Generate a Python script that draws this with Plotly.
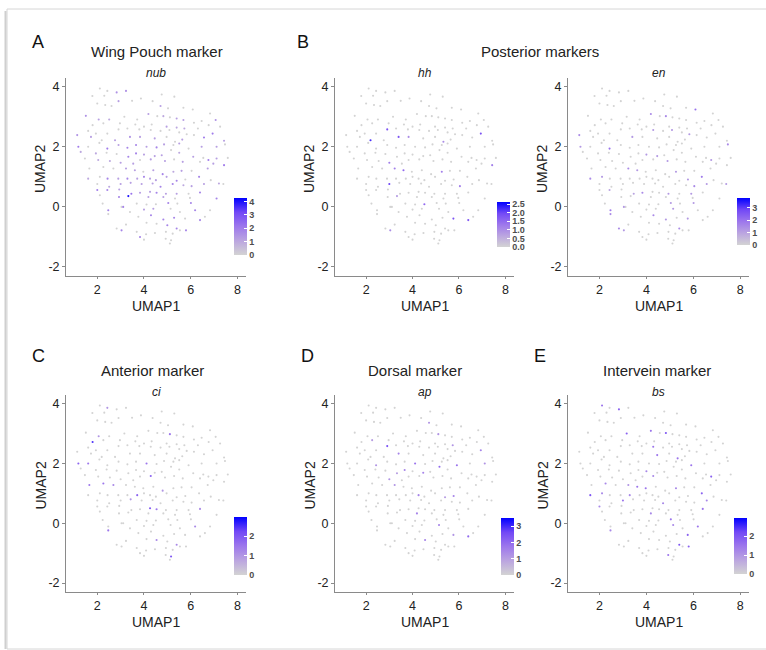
import plotly.graph_objects as go

# UMAP coordinates of the cells (shared by all panels)
umap1 = [2.11, 2.43, 2.83, 3.23, 1.79, 2.30, 2.91, 3.49, 3.87, 4.37, 4.76, 5.30, 2.00, 2.34, 2.61, 4.71, 5.03, 5.69, 6.09, 6.83,
         1.51, 2.06, 2.51, 3.16, 3.71, 4.19, 4.57, 4.83, 5.11, 5.40, 5.69, 6.14, 6.47, 7.07, 1.80, 2.26, 2.97, 3.63, 4.00, 4.33,
         4.97, 5.40, 5.73, 6.31, 6.77, 7.26, 1.61, 1.94, 2.43, 2.91, 3.29, 3.80, 4.29, 4.71, 5.09, 5.51, 5.83, 6.14, 6.94, 1.14,
         1.73, 2.19, 2.76, 3.40, 3.83, 4.46, 4.97, 5.33, 5.64, 6.57, 7.43, 1.19, 1.61, 2.09, 2.43, 2.91, 3.29, 3.66, 4.11, 4.54,
         4.86, 5.26, 5.51, 5.91, 6.47, 7.11, 7.47, 1.29, 1.94, 2.40, 2.83, 3.33, 3.66, 4.00, 4.46, 4.76, 5.16, 5.51, 6.11, 6.54,
         6.76, 7.11, 7.59, 1.47, 2.04, 2.54, 3.00, 3.54, 3.83, 4.29, 4.90, 5.29, 5.66, 6.40, 6.97, 7.43, 1.66, 2.26, 2.69, 3.23,
         3.61, 3.97, 4.40, 4.80, 5.26, 5.61, 6.04, 6.73, 1.61, 2.11, 2.44, 2.90, 3.29, 3.71, 4.00, 4.26, 4.51, 4.97, 5.40, 5.77,
         6.36, 6.86, 2.00, 2.51, 3.00, 3.43, 3.90, 4.37, 4.71, 5.23, 5.69, 6.04, 6.57, 7.21, 7.40, 2.00, 2.43, 2.94, 3.46, 3.83,
         4.26, 4.54, 4.94, 5.40, 5.91, 6.40, 2.11, 2.93, 3.33, 4.19, 4.83, 5.33, 5.97, 7.11, 2.23, 3.11, 3.69, 4.11, 4.51, 5.04,
         5.43, 6.01, 2.47, 3.04, 3.40, 4.00, 4.40, 5.14, 5.54, 6.19, 6.83, 2.47, 3.76, 4.30, 4.83, 5.29, 5.76, 6.40, 6.61, 3.23,
         4.11, 4.54, 5.00, 5.40, 5.80, 2.83, 3.04, 3.69, 4.09, 4.47, 4.94, 5.23, 5.54, 3.83, 4.00, 4.93, 5.16, 5.11]
umap2 = [3.94, 3.86, 3.81, 3.86, 3.69, 3.70, 3.52, 3.53, 3.61, 3.52, 3.74, 3.67, 3.44, 3.39, 3.36, 3.36, 3.28, 3.30, 3.24, 3.11,
         3.03, 2.91, 2.91, 3.00, 2.91, 3.09, 3.02, 3.02, 2.98, 2.94, 2.89, 2.80, 2.86, 2.89, 2.72, 2.78, 2.78, 2.74, 2.67, 2.74,
         2.67, 2.64, 2.61, 2.61, 2.72, 2.67, 2.53, 2.44, 2.44, 2.58, 2.61, 2.58, 2.56, 2.53, 2.56, 2.48, 2.42, 2.39, 2.44, 2.39,
         2.33, 2.22, 2.22, 2.33, 2.33, 2.28, 2.33, 2.17, 2.24, 2.31, 2.20, 2.00, 2.00, 2.13, 1.94, 2.06, 1.97, 2.06, 2.00, 1.98,
         2.08, 2.06, 2.11, 1.94, 2.00, 2.00, 2.08, 1.83, 1.78, 1.80, 1.76, 1.67, 1.78, 1.74, 1.69, 1.72, 1.89, 1.80, 1.67, 1.63,
         1.56, 1.61, 1.63, 1.61, 1.56, 1.53, 1.47, 1.44, 1.56, 1.58, 1.53, 1.58, 1.50, 1.50, 1.44, 1.39, 1.28, 1.33, 1.28, 1.28,
         1.22, 1.17, 1.22, 1.09, 1.17, 1.20, 1.20, 1.28, 0.94, 1.00, 0.94, 0.94, 0.94, 0.94, 1.00, 0.94, 0.89, 1.00, 0.87, 0.91,
         1.00, 0.89, 0.76, 0.67, 0.76, 0.80, 0.76, 0.78, 0.67, 0.76, 0.72, 0.69, 0.76, 0.78, 0.76, 0.56, 0.56, 0.58, 0.44, 0.47,
         0.50, 0.47, 0.44, 0.44, 0.44, 0.48, 0.39, 0.33, 0.36, 0.33, 0.33, 0.28, 0.30, 0.28, 0.11, 0.00, 0.11, 0.08, 0.09, 0.13,
         0.11, 0.13, -0.11, 0.00, -0.17, -0.09, -0.06, -0.06, -0.17, -0.11, -0.11, -0.24, -0.33, -0.28, -0.42, -0.36, -0.39, -0.44, -0.33, -0.59,
         -0.53, -0.56, -0.61, -0.72, -0.78, -0.72, -0.78, -0.83, -0.91, -0.87, -0.83, -0.89, -0.78, -1.00, -1.09, -1.06, -1.11, -1.22]

# Expression per gene: cell ids (1-based) with non-zero expression and their values
nub_cells = [3, 4, 7, 16, 21, 22, 23, 26, 28, 30, 31, 34, 41, 42, 43, 59, 60, 61, 63, 64, 65, 66, 69, 70, 71, 72, 75, 76, 77, 78,
             79, 80, 81, 83, 85, 86, 88, 89, 92, 93, 94, 95, 96, 98, 99, 101, 102, 105, 106, 107, 108, 110, 111, 113, 115, 116,
             120, 121, 123, 124, 125, 126, 128, 129, 131, 132, 133, 134, 135, 136, 137, 138, 139, 141, 144, 145, 146, 147, 148,
             149, 150, 151, 152, 153, 154, 156, 157, 158, 159, 160, 161, 162, 163, 164, 166, 168, 169, 170, 171, 174, 176, 180,
             182, 183, 186, 187, 190, 194, 195, 196, 198, 203, 204, 205, 207, 214]
nub_vals = [1.5, 1.5, 1.2, 1.2, 1.5, 1.2, 1.0, 1.2, 1.0, 1.2, 1.2, 1.5, 1.2, 1.0, 1.0, 2.0, 1.5, 1.2, 1.2, 1.5, 1.2, 1.2, 1.2, 2.0, 1.2, 2.0, 2.0, 1.2, 1.8, 1.8,
            1.2, 1.8, 1.2, 1.2, 1.2, 1.2, 1.0, 1.0, 1.8, 1.8, 1.2, 1.2, 1.2, 1.0, 1.2, 2.0, 1.2, 1.0, 1.0, 1.2, 1.2, 1.2, 1.2, 1.2, 1.2, 2.0,
            1.2, 1.2, 1.2, 1.8, 1.0, 1.2, 1.2, 1.0, 1.8, 1.2, 1.8, 1.2, 1.8, 1.2, 1.2, 1.2, 1.8, 1.8, 1.0, 1.2, 1.2, 1.2, 1.2,
            1.8, 1.8, 1.0, 1.2, 1.2, 1.0, 2.0, 1.8, 1.2, 2.2, 1.2, 1.2, 1.8, 1.2, 1.2, 1.8, 1.8, 4.0, 1.2, 1.2, 1.8, 1.8, 1.8,
            1.8, 1.8, 1.2, 1.2, 1.8, 1.8, 1.8, 1.8, 1.8, 1.8, 1.8, 1.8, 1.8, 1.8]

hh_cells = [62, 50, 64, 65, 107, 120, 121, 145, 125, 152, 59, 116, 179, 197, 198, 68, 169, 207]
hh_vals = [2.2, 1.8, 1.8, 1.0, 1.2, 1.2, 1.5, 2.0, 1.2, 1.2, 1.8, 1.2, 1.5, 1.8, 1.8, 1.0, 0.8, 1.0]

en_cells = [19, 26, 28, 60, 72, 75, 64, 53, 57, 87, 101, 141, 152, 153, 165, 120, 121, 160, 183, 192, 184, 194, 188, 204,
            206, 207, 195, 163, 125, 140, 111, 95, 130, 129, 157, 159, 94, 55, 155, 180, 182, 197]
en_vals = [2.0, 1.5, 1.5, 1.5, 1.2, 2.0, 1.2, 1.2, 1.2, 1.5, 1.2, 1.8, 1.5, 1.2, 1.2, 1.5, 1.2, 1.5, 1.8, 1.5, 1.2, 1.5, 1.2, 1.5,
           1.5, 1.2, 1.2, 1.2, 1.2, 1.2, 1.2, 1.2, 1.2, 1.5, 1.0, 1.0, 1.2, 1.2, 1.2, 1.2, 1.2, 1.2]

ci_cells = [35, 72, 73, 117, 118, 119, 110, 79, 134, 146, 161, 162, 166, 190, 192, 202, 204, 217, 29, 124, 2, 22]
ci_vals = [2.5, 1.8, 1.5, 1.5, 1.5, 1.2, 1.8, 1.5, 1.8, 1.0, 2.0, 1.5, 1.2, 1.2, 1.5, 1.2, 1.2, 2.0, 1.5, 1.0, 1.0, 1.0]

ap_cells = [50, 64, 75, 93, 79, 95, 97, 84, 43, 29, 16, 59, 86, 107, 120, 136, 170, 140, 188, 197, 198, 202, 36, 92, 139]
ap_vals = [2.5, 1.5, 1.2, 1.5, 1.8, 1.5, 2.0, 1.8, 1.2, 1.2, 1.2, 1.5, 1.2, 1.2, 1.2, 1.5, 1.5, 1.5, 1.5, 1.2, 2.0, 1.5, 1.0, 1.0, 1.0]

bs_cells = [1, 3, 24, 26, 28, 53, 66, 68, 84, 101, 141, 153, 166, 129, 130, 156, 118, 145, 133, 121, 122, 94, 110, 149,
            180, 188, 125, 197, 190, 204, 205, 216, 192, 170, 120]
bs_vals = [1.5, 1.8, 1.8, 1.5, 2.0, 1.5, 1.5, 1.5, 1.5, 1.8, 1.8, 1.2, 1.5, 2.0, 1.2, 1.2, 1.2, 1.5, 1.2, 1.5, 1.5, 1.2, 1.2, 1.2,
           1.5, 1.2, 1.2, 1.8, 1.5, 2.0, 1.8, 1.5, 1.2, 1.2, 1.0]

genes = ["nub", "hh", "en", "ci", "ap", "bs"]
gene_cells = [nub_cells, hh_cells, en_cells, ci_cells, ap_cells, bs_cells]
gene_vals = [nub_vals, hh_vals, en_vals, ci_vals, ap_vals, bs_vals]
scale_max = [4.25, 2.62, 3.8, 3.0, 3.5, 2.95]
cbar_ticks = [[0, 1, 2, 3, 4], [0, 0.5, 1.0, 1.5, 2.0, 2.5], [0, 1, 2, 3], [0, 1, 2], [0, 1, 2, 3], [0, 1, 2]]
cbar_text = [["0", "1", "2", "3", "4"], ["0.0", "0.5", "1.0", "1.5", "2.0", "2.5"], ["0", "1", "2", "3"],
             ["0", "1", "2"], ["0", "1", "2", "3"], ["0", "1", "2"]]
group_titles = ["Wing Pouch marker", "Posterior markers", "Anterior marker", "Dorsal marker", "Intervein marker"]
panel_letters = ["A", "B", "C", "D", "E"]
x_ticks = [2, 4, 6, 8]
y_ticks = [-2, 0, 2, 4]

# ---------------- layout geometry (pixels) ----------------
W, H = 766, 650
FONT = "Liberation Sans, Arial, sans-serif"
cols = [(66, 246), (335, 514), (568, 749)]
rows = [(78, 276), (395, 592)]
panel_pos = [(0, 0), (0, 1), (0, 2), (1, 0), (1, 1), (1, 2)]
cbar_geom = [(234, 198, 255), (497, 202, 247), (737, 198, 245), (234, 517, 575), (501, 518, 575), (734, 518, 574)]
colorscale = [[0, "#D3D3D3"], [0.25, "#BBA5E0"], [0.5, "#9D77EC"], [0.75, "#7248F6"], [1, "#0000FF"]]


def px(x):
    return x / W


def py(y):
    return 1 - y / H


fig = go.Figure()
layout = dict(width=W, height=H, margin=dict(l=0, r=0, t=0, b=0, autoexpand=False), paper_bgcolor="white",
              plot_bgcolor="white", showlegend=False, font=dict(family=FONT, color="#222"))
annotations = []
axis_color = "#8a8a8a"

for k, gene in enumerate(genes):
    r, c = panel_pos[k]
    n = "" if k == 0 else str(k + 1)
    expr = [0.0] * len(umap1)
    for cid, v in zip(gene_cells[k], gene_vals[k]):
        expr[cid - 1] = v
    order = sorted(range(len(expr)), key=lambda i: expr[i])
    xs = [umap1[i] for i in order]
    ys = [umap2[i] for i in order]
    cs = [expr[i] for i in order]
    cx, cy0, cy1 = cbar_geom[k]
    fig.add_trace(go.Scatter(
        x=xs, y=ys, mode="markers", xaxis="x" + n, yaxis="y" + n,
        marker=dict(size=2.1, color=cs, coloraxis="coloraxis" + n, line=dict(width=0)),
        hoverinfo="skip"))
    layout["coloraxis" + n] = dict(
        cmin=0, cmax=scale_max[k], colorscale=colorscale,
        colorbar=dict(thickness=13, thicknessmode="pixels", len=cy1 - cy0, lenmode="pixels",
                      x=px(cx), xanchor="left", xpad=0, y=py((cy0 + cy1) / 2), yanchor="middle", ypad=0,
                      outlinewidth=0, ticks="inside", ticklen=3, tickcolor="white", tickwidth=1,
                      tickmode="array", tickvals=cbar_ticks[k], ticktext=cbar_text[k],
                      tickfont=dict(size=9, color="#4d4d4d", family=FONT, weight="bold")))
    x0, x1 = cols[c]
    y0, y1 = rows[r]
    layout["xaxis" + n] = dict(domain=[px(x0), px(x1)], range=[0.66, 8.37], anchor="y" + n,
                               showline=True, linecolor=axis_color, linewidth=1, ticks="outside", ticklen=2,
                               tickcolor=axis_color, showgrid=False, zeroline=False,
                               tickmode="array", tickvals=x_ticks, ticktext=[str(t) for t in x_ticks],
                               tickfont=dict(size=12.5, color="#222", family=FONT), fixedrange=True)
    layout["yaxis" + n] = dict(domain=[py(y1), py(y0)], range=[-2.3, 4.29], anchor="x" + n,
                               showline=True, linecolor=axis_color, linewidth=1, ticks="outside", ticklen=3,
                               tickcolor=axis_color, showgrid=False, zeroline=False,
                               tickmode="array", tickvals=y_ticks, ticktext=[str(t) for t in y_ticks],
                               tickfont=dict(size=12.5, color="#222", family=FONT), fixedrange=True)
    # gene name (italic)
    annotations.append(dict(text="<i>" + gene + "</i>", x=px((x0 + x1) / 2), y=py(73 if r == 0 else 392),
                            xref="paper", yref="paper", showarrow=False, xanchor="center", yanchor="middle",
                            font=dict(size=12, color="#222", family=FONT)))
    # axis titles
    annotations.append(dict(text="UMAP1", x=px((x0 + x1) / 2), y=py(306 if r == 0 else 622),
                            xref="paper", yref="paper", showarrow=False, xanchor="center", yanchor="middle",
                            font=dict(size=14, color="#222", family=FONT)))
    annotations.append(dict(text="UMAP2", x=px(x0 - 26), y=py((y0 + y1) / 2 - 8),
                            xref="paper", yref="paper", showarrow=False, xanchor="center", yanchor="middle",
                            textangle=-90, font=dict(size=14, color="#222", family=FONT)))

# group titles and panel letters
title_pos = [(157, 51), (540, 51), (152, 370), (415, 370), (657, 370)]
letter_pos = [(38, 42), (303, 42), (38, 356), (307, 356), (540, 356)]
for t, (tx, ty) in zip(group_titles, title_pos):
    annotations.append(dict(text=t, x=px(tx), y=py(ty), xref="paper", yref="paper", showarrow=False,
                            xanchor="center", yanchor="middle", font=dict(size=15, color="#222", family=FONT)))
for t, (lx, ly) in zip(panel_letters, letter_pos):
    annotations.append(dict(text=t, x=px(lx), y=py(ly), xref="paper", yref="paper", showarrow=False,
                            xanchor="center", yanchor="middle", font=dict(size=18, color="#111", family=FONT)))

layout["annotations"] = annotations
layout["shapes"] = [
    dict(type="rect", xref="paper", yref="paper", x0=px(7), x1=px(770), y0=py(649), y1=py(9),
         line=dict(color="#d6d6d6", width=1), fillcolor="rgba(0,0,0,0)", layer="below"),
    dict(type="line", xref="paper", yref="paper", x0=px(5.5), x1=px(5.5), y0=py(649), y1=py(11),
         line=dict(color="#cfcfcf", width=2)),
]
fig.update_layout(**layout)
fig.write_html("out.html", config={"displayModeBar": False},
               post_script="document.body.style.margin='0';document.body.style.overflow='hidden';")
